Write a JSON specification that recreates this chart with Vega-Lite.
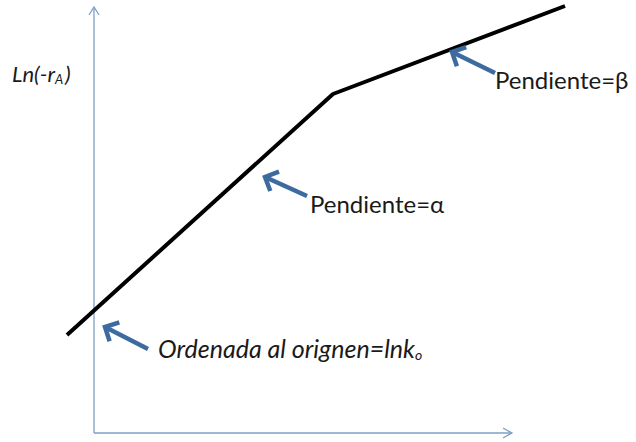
{
  "$schema": "https://vega.github.io/schema/vega-lite/v6.json",
  "width": 636,
  "height": 442,
  "autosize": "none",
  "padding": 0,
  "background": "white",
  "config": {"view": {"stroke": null}},
  "datasets": {
    "axes": [
      {"seg": "yaxis", "i": 0, "x": 0, "y": 0},
      {"seg": "yaxis", "i": 1, "x": 0, "y": 426},
      {"seg": "yhead", "i": 0, "x": -5, "y": 418},
      {"seg": "yhead", "i": 1, "x": 0, "y": 426},
      {"seg": "yhead", "i": 2, "x": 5, "y": 418},
      {"seg": "xaxis", "i": 0, "x": 0, "y": 0},
      {"seg": "xaxis", "i": 1, "x": 418, "y": 0},
      {"seg": "xhead", "i": 0, "x": 409, "y": 5},
      {"seg": "xhead", "i": 1, "x": 418, "y": 0},
      {"seg": "xhead", "i": 2, "x": 409, "y": -5}
    ],
    "curve": [
      {"i": 0, "x": -27, "y": 98},
      {"i": 1, "x": 239, "y": 339},
      {"i": 2, "x": 471, "y": 427}
    ],
    "arrows": [
      {"seg": "a1head", "i": 0, "x": 15.6, "y": 91.7},
      {"seg": "a1head", "i": 1, "x": 11, "y": 106},
      {"seg": "a1head", "i": 2, "x": 25.3, "y": 110.6},
      {"seg": "a1shaft", "i": 0, "x": 11, "y": 106},
      {"seg": "a1shaft", "i": 1, "x": 54, "y": 84},
      {"seg": "a2head", "i": 0, "x": 176.3, "y": 242},
      {"seg": "a2head", "i": 1, "x": 171, "y": 256},
      {"seg": "a2head", "i": 2, "x": 185, "y": 261.3},
      {"seg": "a2shaft", "i": 0, "x": 171, "y": 256},
      {"seg": "a2shaft", "i": 1, "x": 213, "y": 237},
      {"seg": "a3head", "i": 0, "x": 362.9, "y": 366.8},
      {"seg": "a3head", "i": 1, "x": 358, "y": 381},
      {"seg": "a3head", "i": 2, "x": 372.2, "y": 385.9},
      {"seg": "a3shaft", "i": 0, "x": 358, "y": 381},
      {"seg": "a3shaft", "i": 1, "x": 401, "y": 360}
    ],
    "italicLabels": [
      {"t": "Ln(-r", "x": -82, "y": 351, "size": 22},
      {"t": "A", "x": -39, "y": 349, "size": 13},
      {"t": ")", "x": -29, "y": 351, "size": 22},
      {"t": "Ordenada al orignen=lnk", "x": 64, "y": 75, "size": 25},
      {"t": "o", "x": 321, "y": 73, "size": 14}
    ],
    "uprightLabels": [
      {"t": "Pendiente=α", "x": 216, "y": 220, "size": 24},
      {"t": "Pendiente=β", "x": 401, "y": 344, "size": 24}
    ]
  },
  "encoding": {
    "x": {"field": "x", "type": "quantitative", "scale": {"domain": [-94, 542], "nice": false, "zero": false}, "axis": null},
    "y": {"field": "y", "type": "quantitative", "scale": {"domain": [-9, 433], "nice": false, "zero": false}, "axis": null}
  },
  "layer": [
    {
      "data": {"name": "axes"},
      "mark": {"type": "line", "stroke": "#7f9fc4", "strokeWidth": 1.3, "strokeCap": "butt"},
      "encoding": {"detail": {"field": "seg"}, "order": {"field": "i"}}
    },
    {
      "data": {"name": "curve"},
      "mark": {"type": "line", "stroke": "#000000", "strokeWidth": 4, "strokeJoin": "round"},
      "encoding": {"order": {"field": "i"}}
    },
    {
      "data": {"name": "arrows"},
      "mark": {"type": "line", "stroke": "#3e6b9f", "strokeWidth": 4.5, "strokeCap": "butt", "strokeJoin": "miter"},
      "encoding": {"detail": {"field": "seg"}, "order": {"field": "i"}}
    },
    {
      "data": {"name": "italicLabels"},
      "mark": {"type": "text", "align": "left", "baseline": "alphabetic", "font": "Lato", "fontStyle": "italic", "color": "#1a1a1a"},
      "encoding": {
        "text": {"field": "t"},
        "size": {"field": "size", "type": "quantitative", "scale": null}
      }
    },
    {
      "data": {"name": "uprightLabels"},
      "mark": {"type": "text", "align": "left", "baseline": "alphabetic", "font": "Lato", "color": "#1a1a1a"},
      "encoding": {
        "text": {"field": "t"},
        "size": {"field": "size", "type": "quantitative", "scale": null}
      }
    }
  ]
}
